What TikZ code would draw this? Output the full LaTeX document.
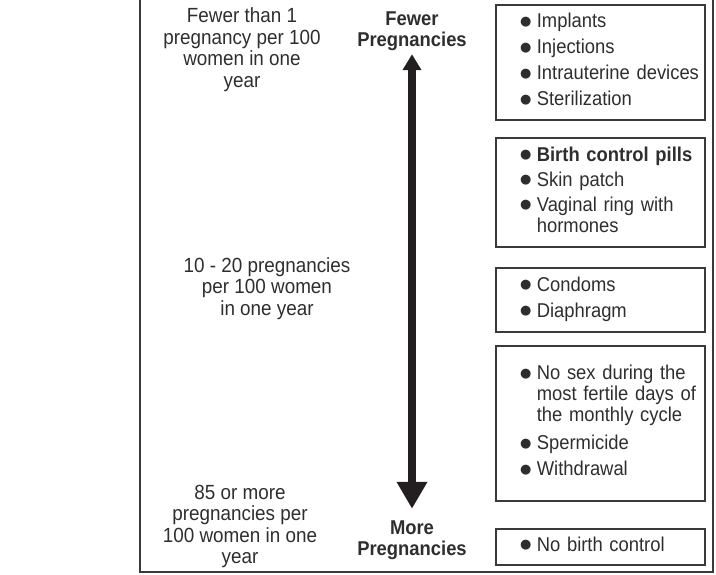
\documentclass[tikz,border=0pt]{standalone}
\usepackage{fontspec}
\setmainfont{Liberation Sans}[FakeStretch=0.92]
\newfontfamily\dotfont{DejaVu Sans}
\usepackage{tikz}
\usetikzlibrary{
    arrows.meta
}
\definecolor{inkgray}{HTML}{2E2E2E}
\definecolor{rulegray}{HTML}{3A3A3A}
\definecolor{arrowink}{HTML}{231F20}
\newcommand{\dotmark}{\raisebox{2.6pt}{\dotfont\fontsize{13}{13}\selectfont ●}}
\newcommand{\bulletlist}[1]{\begin{tabular}{@{\hspace{24pt}}l@{\hspace{5.5pt}}l@{}}#1\end{tabular}}
\tikzset{
    ratetext/.style={align=center, inner sep=0pt, text=inkgray, font=\fontsize{20.5}{21.5}\selectfont},
    dirtext/.style={align=center, inner sep=0pt, text=inkgray, font=\bfseries\fontsize{20}{21}\selectfont},
    methodbox/.style={draw=rulegray, line width=1.3pt, text width=209pt, inner xsep=0pt, inner ysep=0pt,
        align=left, text=inkgray, font=\fontsize{20}{21}\selectfont},
    scalearrow/.style={draw=arrowink, line width=8pt, shorten <=3pt, shorten >=12pt,
        arrows={Triangle[length=16pt,width=18pt]-Triangle[length=27pt,width=29pt]}},
    framing/.style={draw=rulegray, line width=1.6pt}
}

\begin{document}
\begin{tikzpicture}[x=1pt, y=-1pt]
        \useasboundingbox (0,0) rectangle (716,575);
        \draw[framing] (140,0) -- (140,572) -- (713,572) -- (713,0);

        \draw (242,49.5) node[ratetext](lowrate){Fewer than 1\\pregnancy per 100\\women in one\\year};
        \draw (267,288.5) node[ratetext](midrate){10 - 20 pregnancies\\per 100 women\\in one year};
        \draw (240,526.5) node[ratetext](highrate){85 or more\\pregnancies per\\100 women in one\\year};

        \draw (412,31.5) node[dirtext](fewer){Fewer\\Pregnancies};
        \draw (412,540.5) node[dirtext](more){More\\Pregnancies};
        \draw[scalearrow] (fewer) -- (more);

        \draw (600.5,62.5) node[methodbox, minimum height=115pt](impl){\bulletlist{%
            \dotmark & Implants\\[5pt] \dotmark & Injections\\[5pt]
            \dotmark & Intrauterine devices\\[5pt] \dotmark & Sterilization}};
        \draw (600.5,192.5) node[methodbox, minimum height=109pt](hormonal){\bulletlist{%
            \dotmark & \textbf{Birth control pills}\\[4pt] \dotmark & Skin patch\\[4pt]
            \dotmark & Vaginal ring with\\ & hormones}};
        \draw (600.5,300) node[methodbox, minimum height=64pt](barrier){\bulletlist{%
            \dotmark & Condoms\\[5pt] \dotmark & Diaphragm}};
        \draw (600.5,423.5) node[methodbox, minimum height=155pt](natural){\bulletlist{%
            \dotmark & No sex during the\\ & most fertile days of\\ & the monthly cycle\\[7pt]
            \dotmark & Spermicide\\[5pt] \dotmark & Withdrawal}};
        \draw (600.5,547) node[methodbox, minimum height=36pt](none){\bulletlist{%
            \dotmark & No birth control}};
    \end{tikzpicture}
\end{document}
